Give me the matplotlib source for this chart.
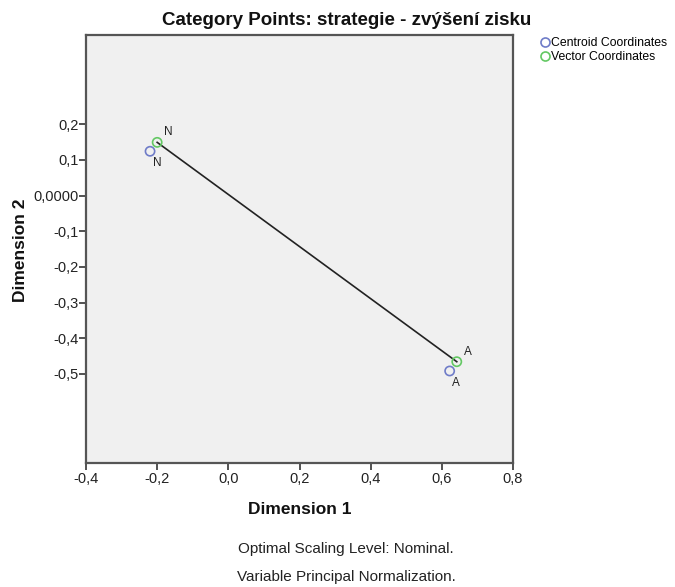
import matplotlib
matplotlib.use("Agg")
import matplotlib.pyplot as plt
from matplotlib.ticker import FixedLocator, FixedFormatter
from matplotlib.lines import Line2D

plt.rcParams['font.family'] = ['Liberation Sans', 'DejaVu Sans']

categories = ["N", "A"]
centroid_x = [-0.220, 0.622]
centroid_y = [0.124, -0.492]
vector_x = [-0.200, 0.642]
vector_y = [0.149, -0.466]

xticks = [-0.4, -0.2, 0.0, 0.2, 0.4, 0.6, 0.8]
xtick_labels = ["-0,4", "-0,2", "0,0", "0,2", "0,4", "0,6", "0,8"]
yticks = [0.2, 0.1, 0.0, -0.1, -0.2, -0.3, -0.4, -0.5]
ytick_labels = ["0,2", "0,1", "0,0000", "-0,1", "-0,2", "-0,3", "-0,4", "-0,5"]

blue = "#6f7cc8"
green = "#63c863"
W, H = 675, 587

def fx(px):
    return px / W

def fy(py):
    return 1 - py / H

fig = plt.figure(figsize=(6.75, 5.87), dpi=100)
ax = fig.add_axes([fx(86), fy(463), (513 - 86) / W, (463 - 35) / H])
ax.set_facecolor("#f0f0f0")
ax.set_xlim(-0.4, 0.8)
ax.set_ylim(-0.75, 0.45)

ax.plot(vector_x, vector_y, color="#222222", lw=1.2, zorder=2)
ax.scatter(centroid_x, centroid_y, s=44, facecolors="none", edgecolors=blue, linewidths=1.2, zorder=3)
ax.scatter(vector_x, vector_y, s=44, facecolors="none", edgecolors=green, linewidths=1.2, zorder=4)

for i, c in enumerate(categories):
    ax.annotate(c, (vector_x[i], vector_y[i]), xytext=(5, 3), textcoords="offset points",
                fontsize=8.5, color="#222222", ha="left", va="bottom")
    ax.annotate(c, (centroid_x[i], centroid_y[i]), xytext=(2, -4), textcoords="offset points",
                fontsize=8.5, color="#222222", ha="left", va="top")

ax.xaxis.set_major_locator(FixedLocator(xticks))
ax.xaxis.set_major_formatter(FixedFormatter(xtick_labels))
ax.yaxis.set_major_locator(FixedLocator(yticks))
ax.yaxis.set_major_formatter(FixedFormatter(ytick_labels))
ax.tick_params(axis="both", direction="out", length=5, width=1.3, color="#444444",
               labelsize=10.5, labelcolor="#222222")
ax.tick_params(axis="x", pad=1.5)
ax.tick_params(axis="y", pad=0)
for s in ax.spines.values():
    s.set_color("#555555")
    s.set_linewidth(1.6)

fig.text(fx(300), fy(514), "Dimension 1", fontsize=12.5, fontweight="bold",
         ha="center", va="baseline", color="#111111")
fig.text(fx(25), fy(250), "Dimension 2", fontsize=12.5, fontweight="bold", rotation=90,
         ha="center", va="baseline", color="#111111", rotation_mode="anchor")
fig.text(fx(347), fy(25), "Category Points: strategie - zvýšení zisku", fontsize=13.5,
         fontweight="bold", ha="center", va="baseline", color="#111111")

handles = [Line2D([], [], marker="o", ls="none", markerfacecolor="none", markeredgecolor=blue,
                  markeredgewidth=1.2, markersize=6.5),
           Line2D([], [], marker="o", ls="none", markerfacecolor="none", markeredgecolor=green,
                  markeredgewidth=1.2, markersize=6.5)]
fig.legend(handles, ["Centroid Coordinates", "Vector Coordinates"], loc="upper left",
           bbox_to_anchor=(fx(541), fy(37)), frameon=False, fontsize=8.8, handlelength=0.7,
           handletextpad=0.1, labelspacing=0.15, borderpad=0, borderaxespad=0)

fig.text(fx(346), fy(553), "Optimal Scaling Level: Nominal.", fontsize=11, ha="center",
         va="baseline", color="#222222")
fig.text(fx(346), fy(581), "Variable Principal Normalization.", fontsize=11, ha="center",
         va="baseline", color="#222222")

fig.savefig("out.png", dpi=100)
